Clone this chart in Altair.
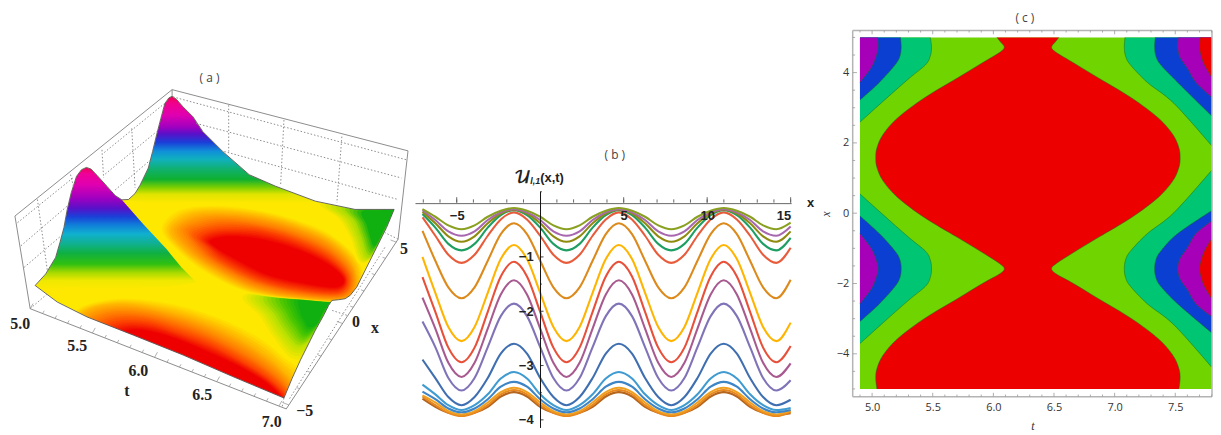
import altair as alt
import pandas as pd

# ---------- panel (a): projected outlines ----------
sil_top = [(103,675),(135,640),(165,590),(178,545),(190,500),(200,445),(212,395),(228,345),(243,325),(258,318),(272,323),(290,342),(320,375),(345,403),(365,416),(385,415),(405,397),(420,372),(445,320),(458,270),(470,220),(483,170),(495,125),(507,108),(517,103),(530,112),(550,135),(580,165),(610,210),(670,270),(750,340),(830,375),(950,420),(1070,445),(1188,445)]
sil_right = [(1165,500),(1120,590),(1095,640),(1075,680),(1055,705),(1040,715),(1020,718),(1000,720),(990,735),(975,765),(950,810),(905,900),(880,955),(855,1015)]
sil_bottom = [(700,950),(550,885),(400,825),(260,770),(170,725)]
silhouette = sil_top + sil_right + sil_bottom
mask_outer = [(24,-156),(1251,-156),(1251,1110),(24,1110),(24,675)]

low_rings = [
 [(215,760),(260,730),(350,712),(450,715),(560,735),(680,775),(780,825),(850,880),(905,935),(880,1080),(500,960),(200,830)],
 [(235,770),(290,740),(380,732),(480,748),(590,778),(700,825),(790,880),(850,930),(885,980),(870,1075),(500,950),(220,830)],
 [(270,785),(330,760),(420,760),(510,780),(610,815),(710,865),(790,915),(850,965),(875,1010),(865,1070),(500,940),(250,830)],
 [(320,800),(375,785),(450,790),(530,815),(625,850),(720,900),(800,950),(850,995),(870,1030),(860,1060),(500,930),(300,835)],
 [(370,815),(410,808),(470,818),(540,840),(630,878),(720,920),(800,968),(840,1005),(850,1025),(850,1050),(500,915),(360,840)],
]
warm_levels = ["#ffe800","#ffb000","#ff7a00","#fb3c00","#ee0000"]
mid_rings = [
 [(480,505),(520,450),(620,430),(750,440),(880,470),(1000,520),(1090,610),(1075,716),(900,716),(740,695),(620,640),(530,570)],
 [(515,505),(570,465),(650,455),(770,465),(890,495),(1000,545),(1070,625),(1055,712),(900,712),(760,685),(630,620),(550,560)],
 [(560,510),(600,490),(670,478),(770,488),(880,515),(990,565),(1058,640),(1035,705),(900,700),(770,670),(650,610),(590,560)],
 [(600,530),(640,510),(700,505),(785,510),(890,540),(990,590),(1045,650),(1020,695),(900,685),(780,655),(670,600),(625,560)],
 [(632,540),(670,528),(730,528),(800,538),(900,568),(990,612),(1035,655),(1010,680),(900,665),(800,640),(700,590),(650,560)],
]
blob_rings = [
 [(730,700),(775,770),(820,840),(870,900),(920,900),(975,810),(1020,730),(1010,695)],
 [(790,705),(820,765),(855,820),(895,860),(935,840),(975,780),(1012,728),(1008,700)],
 [(850,705),(865,760),(890,800),(915,830),(945,810),(980,760),(1008,724),(1006,705)],
 [(905,712),(905,755),(920,785),(930,800),(955,790),(975,750),(1000,722),(1005,712)],
]
blob_levels = ["#ffe800","#b8e000","#50c800","#10b010"]
corner_rings = [
 [(950,425),(1010,470),(1050,530),(1085,610),(1150,560),(1200,440),(1100,435)],
 [(1030,440),(1065,480),(1085,530),(1110,590),(1155,530),(1195,445),(1110,442)],
 [(1090,452),(1105,490),(1115,525),(1130,555),(1160,500),(1190,448),(1140,448)],
]
corner_levels = ["#ffe800","#a8dc00","#10b010"]

peak_left = sil_top[:15] + [(430,490),(500,565),(545,620),(590,665),(500,680),(300,685),(200,680),(130,690)]
peak_right = sil_top[14:33] + [(950,430),(780,432),(600,436),(450,428)]

stops_left = [(0,"#f00050"),(.05,"#f00098"),(.14,"#e000b0"),(.25,"#a000c0"),(.33,"#5a10c8"),(.40,"#1a40d8"),(.47,"#1080d8"),(.54,"#10b0d0"),(.62,"#10b090"),(.70,"#10b040"),(.786,"#30c010"),(.85,"#a0d800"),(.92,"#f0e800"),(1,"#ffe800")]
stops_right = [(0,"#f00050"),(.07,"#f00090"),(.17,"#e000b0"),(.28,"#a000c0"),(.34,"#5a10c8"),(.42,"#1a40d8"),(.50,"#1090d8"),(.57,"#10b0c0"),(.66,"#10b070"),(.755,"#10b030"),(.83,"#80d000"),(.89,"#e0e400"),(.97,"#ffe800"),(1,"#ffe800")]

box_solid = [(42,465,517,83),(517,83,1230,268),(42,465,88,745),(88,745,862,1048),(862,1048,1200,535),(1230,268,1200,535),(517,83,517,103)]
box_dotted = [(50,485,217,350),(312,273,500,120),(60,555,200,435),(315,338,470,210),(70,620,180,526),(345,386,450,297),
              (110,415,140,630),(210,340,220,380),(305,265,310,350),(395,200,405,380),
              (520,105,1225,295),(590,185,1210,350),(675,270,1200,415),(688,130,688,270),(855,175,845,370),(1030,225,1015,425),
              (1160,560,870,1020),(1045,765,1000,750),(88,745,140,700),(855,1015,850,1040),(1200,535,1160,515)]
a_t_ticks = [5.0,5.1,5.2,5.3,5.4,5.5,5.6,5.7,5.8,5.9,6.0,6.1,6.2,6.3,6.4,6.5,6.6,6.7,6.8,6.9,7.0]
a_x_ticks = [-5,-4,-3,-2,-1,0,1,2,3,4,5]
a_labels = [("5.0",58,790),("5.5",230,858),("6.0",415,932),("6.5",608,1005),("7.0",818,1088),("t",380,995),("5",1218,565),("0",1073,785),("x",1130,805),("\u22125",918,1055)]

# ---------- panel (b): curve samples ----------
b_x = [-7.05,-6.28,-5.50,-4.71,-3.93,-3.14,-2.36,-1.57,-0.79,0,0.79,1.57,2.36,3.14,3.93,4.71,5.50,6.28,7.07,7.85,8.64,9.42,10.21,10.99,11.78,12.57,13.35,14.14,15.0]
b_colors = ["#b5651d","#e8871e","#f0a020","#3d85c6","#3f9bd0","#3f6fb0","#8073b8","#a85a90","#e8503a","#ffb400","#dd8a1c","#e85c3c","#1e9e63","#8f8a10","#a868b0","#8aa020"]
# per curve: value at the left end, crest, shoulder, mid-height, foot, trough, value at the right end
b_a = [-3.61,-3.49,-3.57,-3.76,-3.87,-3.91,-3.88]
b_b = [-3.57,-3.45,-3.53,-3.73,-3.87,-3.93,-3.85]
b_c = [-3.55,-3.41,-3.49,-3.68,-3.84,-3.90,-3.83]
b_d = [-3.48,-3.30,-3.39,-3.62,-3.79,-3.86,-3.82]
b_e = [-3.35,-3.12,-3.24,-3.53,-3.73,-3.82,-3.78]
b_f = [-2.89,-2.60,-2.78,-3.23,-3.58,-3.73,-3.63]
b_g = [-2.19,-1.86,-2.09,-2.66,-3.23,-3.46,-3.27]
b_h = [-1.75,-1.43,-1.69,-2.32,-2.95,-3.21,-2.96]
b_i = [-1.37,-1.09,-1.36,-2.01,-2.67,-2.94,-2.64]
b_j = [-1.00,-0.78,-1.04,-1.66,-2.29,-2.55,-2.21]
b_k = [-0.52,-0.38,-0.58,-1.07,-1.56,-1.76,-1.42]
b_l = [-0.27,-0.18,-0.31,-0.61,-0.96,-1.11,-0.83]
b_m = [-0.21,-0.14,-0.23,-0.46,-0.76,-0.88,-0.65]
b_n = [-0.17,-0.13,-0.20,-0.38,-0.62,-0.72,-0.53]
b_o = [-0.14,-0.12,-0.18,-0.32,-0.53,-0.61,-0.44]
b_p = [-0.12,-0.10,-0.15,-0.26,-0.42,-0.49,-0.37]
b_series = [b_a,b_b,b_c,b_d,b_e,b_f,b_g,b_h,b_i,b_j,b_k,b_l,b_m,b_n,b_o,b_p]
b_phase = ["start","mid","foot","low","foot","mid","sh","hi","sh","mid","foot","low","foot","mid","sh","hi","sh","mid","foot","low","foot","mid","sh","hi","sh","mid","foot","low","end"]
b_minor_x = [-7,-6,-5,-4,-3,-2,-1,1,2,3,4,5,6,7,8,9,10,11,12,13,14,15]
b_major_y = [-4,-3,-2,-1]
b_minor_y = [-3.5,-2.5,-1.5,-0.5,0.2]

# ---------- panel (c): contour boundaries ----------
red_x = [-5.0,-4.70,-4.42,-4.04,-3.57,-3.0,-2.44,-2.0,-1.73,-1.58,-1.43,-1.12,-0.68,-0.12,0.45,0.92,1.30,1.58,1.86,2.24,2.71,3.28,3.84,4.28,4.57,4.72,4.87,5.0]
red_left = [5.04,5.03,5.04,5.09,5.21,5.43,5.70,5.91,6.05,6.09,6.05,5.91,5.70,5.43,5.21,5.09,5.04,5.03,5.04,5.09,5.21,5.43,5.70,5.91,6.05,6.09,6.06,6.03]
red_right = [7.53,7.54,7.53,7.48,7.36,7.14,6.87,6.66,6.52,6.48,6.52,6.66,6.87,7.14,7.36,7.48,7.53,7.54,7.53,7.48,7.36,7.14,6.87,6.66,6.52,6.48,6.51,6.54]
GREEN, RED, TEAL, BLUE, PURPLE = "#6fd400", "#ec0000", "#00c573", "#0a3fd2", "#a600b8"
left_lobes = [
 (TEAL,[5.0,4.72,4.47,4.22,3.82,3.15,2.59],[5.48,5.49,5.48,5.44,5.30,5.08,4.9]),
 (TEAL,[0.55,-0.01,-0.68,-1.08,-1.33,-1.58,-1.83,-2.08,-2.48,-3.15,-3.71],[4.9,5.08,5.30,5.44,5.48,5.49,5.48,5.44,5.30,5.08,4.9]),
 (BLUE,[5.0,4.72,4.47,4.22,3.72,3.22],[5.235,5.24,5.23,5.19,5.06,4.9]),
 (BLUE,[-0.08,-0.58,-1.08,-1.33,-1.58,-1.83,-2.08,-2.58,-3.08],[4.9,5.06,5.19,5.23,5.24,5.23,5.19,5.06,4.9]),
 (PURPLE,[5.0,4.72,4.42,4.12,3.72],[5.045,5.05,5.03,4.99,4.9]),
 (PURPLE,[-0.58,-0.98,-1.28,-1.58,-1.88,-2.18,-2.58],[4.9,4.99,5.03,5.05,5.03,4.99,4.9]),
]
right_lobes = [
 (TEAL,[5.0,4.72,4.47,4.22,3.72,3.12,1.92],[7.085,7.08,7.09,7.13,7.27,7.49,7.8]),
 (TEAL,[1.22,0.02,-0.58,-1.08,-1.33,-1.58,-1.83,-2.08,-2.58,-3.18,-4.38],[7.8,7.49,7.27,7.13,7.09,7.08,7.09,7.13,7.27,7.49,7.8]),
 (BLUE,[5.0,4.72,4.47,4.22,3.72,2.77],[7.335,7.33,7.34,7.38,7.52,7.8]),
 (BLUE,[0.07,-0.58,-1.08,-1.33,-1.58,-1.83,-2.08,-2.58,-3.4],[7.8,7.52,7.38,7.34,7.33,7.34,7.38,7.52,7.8]),
 (PURPLE,[5.0,4.72,4.42,4.12,3.72,3.3],[7.525,7.52,7.54,7.60,7.67,7.8]),
 (PURPLE,[-0.22,-0.58,-0.98,-1.28,-1.58,-1.88,-2.18,-2.58,-2.94],[7.8,7.67,7.60,7.54,7.52,7.54,7.60,7.67,7.8]),
 (RED,[5.0,4.72,4.52,4.22,3.87],[7.705,7.70,7.71,7.74,7.8]),
 (RED,[-0.73,-1.08,-1.38,-1.58,-1.78,-2.08,-2.43],[7.8,7.74,7.71,7.70,7.71,7.74,7.8]),
]
c_major_t = [5.0,5.5,6.0,6.5,7.0,7.5]
c_minor_t = [4.9,5.1,5.2,5.3,5.4,5.6,5.7,5.8,5.9,6.1,6.2,6.3,6.4,6.6,6.7,6.8,6.9,7.1,7.2,7.3,7.4,7.6,7.7,7.8]
c_major_x = [-4,-2,0,2,4]
c_minor_x = [-5,-4.5,-3.5,-3,-2.5,-1.5,-1,-0.5,0.5,1,1.5,2.5,3,3.5,4.5,5]

FULL_H = 422
A_W, B_W, C_W = 409, 441, 362
MINUS = "replace(datum.label,'-','\u2212')"

# ===== panel (a) =====
SAX = alt.Scale(domain=[24,1251], nice=False, zero=False)
SAY = alt.Scale(domain=[1110,-156], nice=False, zero=False)
def ax(): return alt.X("sx:Q",scale=SAX,axis=None)
def ay(): return alt.Y("sy:Q",scale=SAY,axis=None)

def poly(pts, fill, interp="cardinal-closed"):
    df = pd.DataFrame({"sx":[p[0] for p in pts],"sy":[p[1] for p in pts],"i":range(len(pts))})
    if isinstance(fill,str):
        m = alt.Chart(df).mark_line(interpolate=interp, fill=fill, stroke=fill, strokeWidth=0.4)
    else:
        m = alt.Chart(df).mark_line(interpolate=interp, fill=fill, strokeWidth=0)
    return m.encode(x=ax(), y=ay(), order=alt.Order("i:Q"))

def grad(stops):
    return {"gradient":"linear","x1":0,"y1":0,"x2":0,"y2":1,"stops":[{"offset":o,"color":c} for o,c in stops]}

def hex2(c): return [int(c[i:i+2],16) for i in (1,3,5)]
def shade(rings, levels, sub=5):
    """fill between two read contour rings by a few tints, as a surface shader would"""
    out = [poly(rings[0],levels[0])]
    for k in range(len(rings)-1):
        c0,c1 = hex2(levels[k]),hex2(levels[k+1])
        for s in range(1,sub+1):
            f = s/sub
            pts = [(a[0]+(b[0]-a[0])*f,a[1]+(b[1]-a[1])*f) for a,b in zip(rings[k],rings[k+1])]
            col = "#%02x%02x%02x" % tuple(round(u+(v-u)*f) for u,v in zip(c0,c1))
            out.append(poly(pts,col))
    return out

def segs(rows, color, width, dash=None):
    df = pd.DataFrame(rows, columns=["a","b","c","d"])
    kw = {"strokeDash":dash} if dash else {}
    return alt.Chart(df).mark_rule(color=color, strokeWidth=width, **kw).encode(
        x=alt.X("a:Q",scale=SAX,axis=None), y=alt.Y("b:Q",scale=SAY,axis=None),
        x2="c:Q", y2="d:Q")

tick_rows = []
for t in a_t_ticks:
    bx_, by_ = 88+(t-5)/2*752, 745+(t-5)/2*294
    ln = 2.2 if round(t*10)%5==0 else 1.2
    tick_rows.append((bx_,by_,bx_+4*ln,by_-7*ln))
for v in a_x_ticks:
    bx_, by_ = 870+(v+5)/10*325, 1036-(v+5)/10*492
    ln = 2.2 if v%5==0 else 1.2
    tick_rows.append((bx_,by_,bx_-8*ln,by_-3*ln))

lab_df = pd.DataFrame(a_labels, columns=["s","sx","sy"])
a_layers = [poly(silhouette,"#ffe800","linear-closed")]
a_layers += shade(low_rings,warm_levels)
a_layers += shade(blob_rings,blob_levels)
a_layers += shade(mid_rings,warm_levels)
a_layers += shade(corner_rings,corner_levels)
a_layers.append(poly(peak_left,grad(stops_left),"linear-closed"))
a_layers.append(poly(peak_right,grad(stops_right),"linear-closed"))
a_layers.append(poly(mask_outer+[silhouette[0]]+silhouette[::-1],"#ffffff","linear-closed"))
ring = silhouette+[silhouette[0]]
a_layers.append(alt.Chart(pd.DataFrame({"sx":[p[0] for p in ring],"sy":[p[1] for p in ring],"i":range(len(ring))})).mark_line(color="#2a2a2a",strokeWidth=0.7).encode(
    x=ax(), y=ay(), order=alt.Order("i:Q")))
a_layers.append(segs(box_dotted,"#8c8c8c",1,[1.5,2]))
a_layers.append(segs(box_solid,"#8c8c8c",1))
a_layers.append(segs(tick_rows,"#8c8c8c",0.7))
a_layers.append(alt.Chart(lab_df).mark_text(font="Liberation Serif",fontWeight="bold",fontSize=16,color="#222").encode(x=ax(), y=ay(), text="s:N"))
a_layers.append(alt.Chart(pd.DataFrame({"s":["( a )"],"sx":[630],"sy":[48]})).mark_text(font="Open Sans",fontSize=12,color="#444").encode(x=ax(), y=ay(), text="s:N"))
panel_a = alt.layer(*a_layers).properties(width=A_W,height=FULL_H)

# ===== panel (b) =====
SBX = alt.Scale(domain=[-7.5,15.03], range=[0,379], nice=False, zero=False)
SBY = alt.Scale(domain=[-4.14,0.21], range=[420,182], nice=False, zero=False)
BXA = alt.Axis(orient="bottom",offset=-228,values=[-5,5,10,15],ticks=False,grid=False,title=None,domainColor="#666",labelFontWeight="bold",labelFont="Liberation Sans",labelFontSize=13,labelColor="#222",labelPadding=6,labelExpr=MINUS,zindex=1)
BYA = alt.Axis(orient="left",offset=-126,values=b_major_y,ticks=False,grid=False,title=None,domainColor="#111",labelFontWeight="bold",labelFont="Liberation Sans",labelFontSize=13,labelColor="#222",labelPadding=7,labelExpr=MINUS,zindex=1)
phase_slot = {"start":0,"hi":1,"sh":2,"mid":3,"foot":4,"low":5,"end":6}
bdf = pd.DataFrame([{"x":x,"y":s[phase_slot[p]],"c":str(k),"i":i} for k,s in enumerate(b_series) for i,(x,p) in enumerate(zip(b_x,b_phase))])
def bx(field="x"): return alt.X(f"{field}:Q",scale=SBX,axis=BXA)
def by(field="y"): return alt.Y(f"{field}:Q",scale=SBY,axis=BYA)

b_lines = alt.Chart(bdf).mark_line(interpolate="monotone",strokeWidth=2.1).encode(
    x=bx(), y=by(),
    color=alt.Color("c:N",scale=alt.Scale(domain=[str(i) for i in range(16)],range=b_colors),legend=None),
    order=alt.Order("i:Q"))

def b_ticks_x(vals, top):
    d = pd.DataFrame({"x":vals,"y":[0]*len(vals),"y2":[top]*len(vals)})
    return alt.Chart(d).mark_rule(color="#666",strokeWidth=1).encode(x=bx(),y=by(),y2="y2:Q")
def b_ticks_y(vals, r):
    d = pd.DataFrame({"x":[0]*len(vals),"x2":[r]*len(vals),"y":vals})
    return alt.Chart(d).mark_rule(color="#444",strokeWidth=1).encode(x=bx(),x2="x2:Q",y=by())
def b_text(s, x, y, **kw):
    d = pd.DataFrame({"s":[s],"x":[x],"y":[y]})
    return alt.Chart(d).mark_text(**kw).encode(x=bx(),y=by(),text="s:N")

panel_b = alt.layer(
    b_lines,
    b_ticks_x(b_minor_x,0.06), b_ticks_x([-5,5,10,15],0.1),
    b_ticks_y(b_major_y,0.2), b_ticks_y(b_minor_y,0.1),
    b_text("( b )",4.47,0.87,font="Open Sans",fontSize=12,color="#444"),
    b_text("\U0001D4B0",-1.05,0.45,font="DejaVu Math TeX Gyre",fontSize=17,color="#222",fontWeight="bold"),
    b_text("l,1",-0.3,0.40,font="Liberation Sans",fontSize=9,fontStyle="italic",fontWeight="bold",color="#222"),
    b_text("(x,t)",0.0,0.45,font="Liberation Sans",fontSize=13,fontWeight="bold",color="#222",align="left"),
    b_text("x",16.2,0.0,font="Liberation Sans",fontSize=13,fontWeight="bold",color="#222"),
).properties(width=B_W,height=FULL_H)

# ===== panel (c) =====
SCX = alt.Scale(domain=[4.84,7.803], nice=False, zero=False)
SCY = alt.Scale(domain=[-5.22,5.2], range=[389,20], nice=False, zero=False)
CXA = alt.Axis(orient="bottom",offset=-33,values=c_major_t,format=".1f",ticks=False,domain=False,grid=False,title="t",titleFontStyle="italic",titleFont="Liberation Serif",titleFontWeight="normal",titleFontSize=12,titleColor="#333",titlePadding=8,labelFont="Open Sans",labelFontSize=11,labelColor="#333",labelPadding=5)
CYA = alt.Axis(orient="left",values=c_major_x,ticks=False,domain=False,grid=False,title="x",titleFontStyle="italic",titleFont="Liberation Serif",titleFontWeight="normal",titleFontSize=12,titleColor="#333",titlePadding=4,labelFont="Open Sans",labelFontSize=11,labelColor="#333",labelPadding=4,labelExpr=MINUS)
def cx(field="t"): return alt.X(f"{field}:Q",scale=SCX,axis=CXA)
def cy(field="x"): return alt.Y(f"{field}:Q",scale=SCY,axis=CYA)

def band(xs, t1, t2, color):
    d = pd.DataFrame({"x":xs,"t":t1,"t2":t2,"i":range(len(xs))})
    return alt.Chart(d).mark_area(orient="horizontal",interpolate="cardinal",color=color).encode(x=cx(),x2="t2:Q",y=cy())
def edge(xs, ts):
    d = pd.DataFrame({"x":xs,"t":ts,"i":range(len(xs))})
    return alt.Chart(d).mark_line(interpolate="cardinal",color="#1f6a1f",strokeWidth=0.5).encode(x=cx(),y=cy(),order=alt.Order("i:Q"))

c_layers = [
    alt.Chart(pd.DataFrame({"x":[-5,5],"t":[4.9,4.9],"t2":[7.8,7.8]})).mark_area(orient="horizontal",color=GREEN).encode(x=cx(),x2="t2:Q",y=cy()),
    band(red_x,red_left,red_right,RED),
    edge(red_x,red_left), edge(red_x,red_right),
]
for col,xs,ts in left_lobes:
    c_layers += [band(xs,ts,[4.9]*len(xs),col), edge(xs,ts)]
for col,xs,ts in right_lobes:
    c_layers += [band(xs,ts,[7.8]*len(xs),col), edge(xs,ts)]

frame_rows = pd.DataFrame([
    {"t":4.84,"t2":7.803,"x":5.2,"x2":5.2},{"t":4.84,"t2":7.803,"x":-5.22,"x2":-5.22},
    {"t":4.84,"t2":4.84,"x":-5.22,"x2":5.2},{"t":7.803,"t2":7.803,"x":-5.22,"x2":5.2}])
c_layers.append(alt.Chart(frame_rows).mark_rule(color="#b4b4b4",strokeWidth=1.5).encode(x=cx(),x2="t2:Q",y=cy(),y2="x2:Q"))
for vals,h in [(c_major_t,0.11),(c_minor_t,0.06)]:
    for base,sgn in [(-5.22,1),(5.2,-1)]:
        d = pd.DataFrame({"t":vals,"x":[base]*len(vals),"x2":[base+sgn*h]*len(vals)})
        c_layers.append(alt.Chart(d).mark_rule(color="#999",strokeWidth=0.8).encode(x=cx(),y=cy(),y2="x2:Q"))
for vals,dt in [(c_major_x,0.035),(c_minor_x,0.02)]:
    d = pd.DataFrame({"x":vals,"t":[4.84]*len(vals),"t2":[4.84+dt]*len(vals)})
    c_layers.append(alt.Chart(d).mark_rule(color="#999",strokeWidth=0.8).encode(x=cx(),x2="t2:Q",y=cy()))
c_layers.append(alt.Chart(pd.DataFrame({"s":["( c )"],"t":[6.26],"x":[5.55]})).mark_text(font="Open Sans",fontSize=12,color="#444").encode(x=cx(),y=cy(),text="s:N"))
panel_c = alt.layer(*c_layers).properties(width=C_W,height=FULL_H)

chart = alt.hconcat(panel_a,panel_b,panel_c,spacing=0,bounds="flush").properties(padding=0).configure_view(stroke=None)
chart.save("out.html", embed_options={"renderer":"svg","actions":False})
